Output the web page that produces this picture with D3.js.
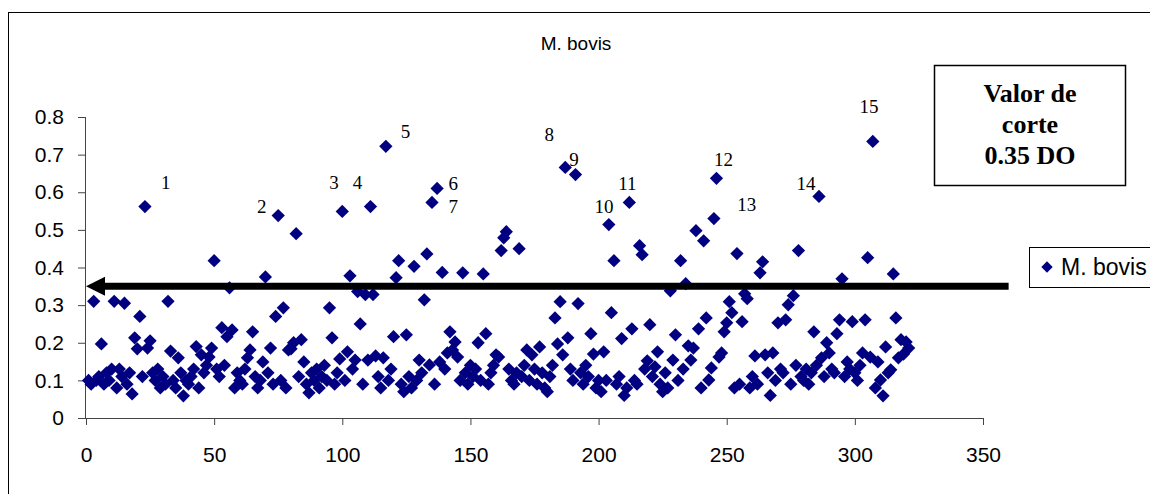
<!DOCTYPE html>
<html>
<head>
<meta charset="utf-8">
<script src="https://cdn.jsdelivr.net/npm/d3@7"></script>
<style>
  body { margin: 0; background: #fff; }
  svg { display: block; }
</style>
</head>
<body>
<div id="chart"></div>
<script>
// optical density per sample, samples numbered 1..321
const odValues = [
  0.10, 0.09, 0.31, 0.10, 0.11, 0.197, 0.09, 0.12, 0.10, 0.13,
  0.31, 0.08, 0.13, 0.11, 0.305, 0.09, 0.12, 0.064, 0.213, 0.184,
  0.27, 0.11, 0.562, 0.186, 0.205, 0.12, 0.10, 0.13, 0.08, 0.11,
  0.09, 0.31, 0.178, 0.10, 0.08, 0.16, 0.12, 0.059, 0.10, 0.09,
  0.11, 0.13, 0.19, 0.08, 0.168, 0.12, 0.14, 0.162, 0.186, 0.418,
  0.13, 0.11, 0.24, 0.14, 0.216, 0.346, 0.234, 0.08, 0.12, 0.10,
  0.09, 0.13, 0.16, 0.181, 0.229, 0.11, 0.08, 0.10, 0.149, 0.375,
  0.12, 0.186, 0.09, 0.27, 0.538, 0.10, 0.293, 0.08, 0.181, 0.184,
  0.20, 0.49, 0.11, 0.208, 0.149, 0.09, 0.067, 0.12, 0.10, 0.13,
  0.08, 0.11, 0.14, 0.10, 0.293, 0.213, 0.09, 0.12, 0.157, 0.549,
  0.10, 0.176, 0.378, 0.13, 0.154, 0.336, 0.25, 0.09, 0.328, 0.154,
  0.562, 0.328, 0.165, 0.11, 0.08, 0.16, 0.722, 0.10, 0.13, 0.216,
  0.373, 0.418, 0.09, 0.07, 0.221, 0.11, 0.08, 0.403, 0.10, 0.154,
  0.12, 0.314, 0.436, 0.141, 0.573, 0.09, 0.61, 0.149, 0.387, 0.13,
  0.173, 0.229, 0.181, 0.202, 0.162, 0.10, 0.386, 0.12, 0.09, 0.14,
  0.11, 0.13, 0.20, 0.10, 0.383, 0.224, 0.09, 0.12, 0.14, 0.168,
  0.162, 0.445, 0.479, 0.495, 0.13, 0.10, 0.09, 0.12, 0.45, 0.11,
  0.14, 0.181, 0.10, 0.168, 0.13, 0.09, 0.189, 0.12, 0.08, 0.07,
  0.11, 0.14, 0.266, 0.197, 0.309, 0.168, 0.666, 0.213, 0.13, 0.10,
  0.647, 0.304, 0.12, 0.09, 0.14, 0.11, 0.224, 0.17, 0.08, 0.10,
  0.07, 0.176, 0.10, 0.514, 0.28, 0.418, 0.09, 0.11, 0.211, 0.06,
  0.08, 0.573, 0.237, 0.10, 0.09, 0.458, 0.434, 0.13, 0.152, 0.248,
  0.11, 0.136, 0.176, 0.09, 0.07, 0.12, 0.08, 0.338, 0.154, 0.221,
  0.10, 0.418, 0.13, 0.357, 0.192, 0.154, 0.186, 0.498, 0.237, 0.08,
  0.471, 0.266, 0.101, 0.133, 0.53, 0.637, 0.162, 0.173, 0.229, 0.253,
  0.309, 0.28, 0.08, 0.437, 0.09, 0.256, 0.33, 0.317, 0.08, 0.11,
  0.165, 0.09, 0.386, 0.415, 0.168, 0.12, 0.06, 0.173, 0.10, 0.253,
  0.13, 0.12, 0.261, 0.301, 0.09, 0.325, 0.14, 0.445, 0.11, 0.10,
  0.13, 0.09, 0.12, 0.229, 0.14, 0.589, 0.16, 0.11, 0.20, 0.173,
  0.13, 0.12, 0.224, 0.261, 0.37, 0.11, 0.149, 0.13, 0.256, 0.12,
  0.10, 0.14, 0.173, 0.261, 0.426, 0.162, 0.735, 0.08, 0.149, 0.101,
  0.059, 0.189, 0.12, 0.128, 0.383, 0.266, 0.16, 0.208, 0.17, 0.202,
  0.186
];
const sampleIds = odValues.map((v, i) => i + 1);

// numbered positives: text and where it sits (data units)
const posLabels = ['1','2','3','4','5','6','7','8','9','10','11','12','13','14','15'];
const posLabelX = [31.1, 68.6, 96.8, 105.9, 124.7, 143.3, 143.3, 180.8, 190.4, 202.1, 211.2, 248.7, 257.8, 280.9, 305.5];
const posLabelY = [0.608, 0.544, 0.608, 0.608, 0.744, 0.606, 0.546, 0.735, 0.670, 0.546, 0.606, 0.671, 0.551, 0.606, 0.810];

const xTicks = [0, 50, 100, 150, 200, 250, 300, 350];
const yTicks = [0, 0.1, 0.2, 0.3, 0.4, 0.5, 0.6, 0.7, 0.8];
const cutoff = 0.35;
const seriesName = 'M. bovis';

const width = 1150, height = 494;
const navy = '#000080';

const svg = d3.select('#chart').append('svg')
  .attr('width', width)
  .attr('height', height);

// outer chart frame
svg.append('rect')
  .attr('x', 8.5).attr('y', 12.5)
  .attr('width', 1160).attr('height', 500)
  .attr('fill', 'none').attr('stroke', '#000').attr('stroke-width', 1);

const x = d3.scaleLinear().domain([0, 350]).range([86, 983]);
const y = d3.scaleLinear().domain([0, 0.8]).range([418, 117]);

svg.append('text')
  .attr('x', 576).attr('y', 50)
  .attr('text-anchor', 'middle')
  .attr('font-family', 'Liberation Sans, Arial, sans-serif')
  .attr('font-size', 19)
  .text(seriesName);

const yAxis = svg.append('g')
  .attr('transform', 'translate(86,0)')
  .call(d3.axisLeft(y).tickValues(yTicks).tickSize(8).tickPadding(14)
    .tickFormat(d => d === 0 ? '0' : d3.format('.1f')(d)));

const xAxis = svg.append('g')
  .attr('transform', 'translate(0,418)')
  .call(d3.axisBottom(x).tickValues(xTicks).tickSize(7).tickPadding(22)
    .tickFormat(d3.format('d')));

[xAxis, yAxis].forEach(g => {
  g.select('.domain').attr('stroke', '#444');
  g.selectAll('.tick line').attr('stroke', '#444');
  g.selectAll('text')
    .attr('font-family', 'Liberation Sans, Arial, sans-serif')
    .attr('font-size', 21)
    .attr('fill', '#000');
});
xAxis.select('.domain').attr('d', `M${x(0)},0.5H${x(350)}`);
yAxis.select('.domain').attr('d', `M-0.5,${y(0)}V${y(0.8)}`);

// points
const diamond = d3.symbol().type(d3.symbolSquare).size(88);
svg.append('g')
  .selectAll('path')
  .data(odValues)
  .join('path')
    .attr('d', diamond)
    .attr('transform', (d, i) => `translate(${x(sampleIds[i])},${y(d)}) rotate(45)`)
    .attr('fill', navy);

// numbers of the positive samples
svg.append('g')
  .selectAll('text')
  .data(posLabels)
  .join('text')
    .attr('x', (d, i) => x(posLabelX[i]))
    .attr('y', (d, i) => y(posLabelY[i]))
    .attr('text-anchor', 'middle')
    .attr('font-family', 'Liberation Serif, Times New Roman, serif')
    .attr('font-size', 19)
    .text(d => d);

// cut-off arrow
const ay = y(cutoff);
const arrowEnd = 360;
svg.append('line')
  .attr('x1', x(0) + 15).attr('x2', x(arrowEnd))
  .attr('y1', ay).attr('y2', ay)
  .attr('stroke', '#000').attr('stroke-width', 7);
svg.append('path')
  .attr('d', `M${x(0)},${ay}L${x(0) + 19},${ay - 9.5}L${x(0) + 19},${ay + 9.5}Z`)
  .attr('fill', '#000');

// cut-off note box
svg.append('rect')
  .attr('x', 934.5).attr('y', 65.5)
  .attr('width', 191).attr('height', 120)
  .attr('fill', '#fff').attr('stroke', '#000').attr('stroke-width', 1.5);
const note = ['Valor de', 'corte', cutoff.toFixed(2) + ' DO'];
svg.append('g')
  .selectAll('text')
  .data(note)
  .join('text')
    .attr('x', 1030)
    .attr('y', (d, i) => 102 + i * 31)
    .attr('text-anchor', 'middle')
    .attr('font-family', 'Liberation Serif, Times New Roman, serif')
    .attr('font-weight', 'bold')
    .attr('font-size', 26)
    .text(d => d);

// legend
const legend = svg.append('g');
legend.append('rect')
  .attr('x', 1029.5).attr('y', 247.5)
  .attr('width', 140).attr('height', 40)
  .attr('fill', '#fff').attr('stroke', '#000').attr('stroke-width', 1);
legend.append('path')
  .attr('d', d3.symbol().type(d3.symbolSquare).size(64))
  .attr('transform', 'translate(1047,267) rotate(45)')
  .attr('fill', navy);
legend.append('text')
  .attr('x', 1061).attr('y', 275)
  .attr('font-family', 'Liberation Sans, Arial, sans-serif')
  .attr('font-size', 23)
  .text(seriesName);
</script>
</body>
</html>
